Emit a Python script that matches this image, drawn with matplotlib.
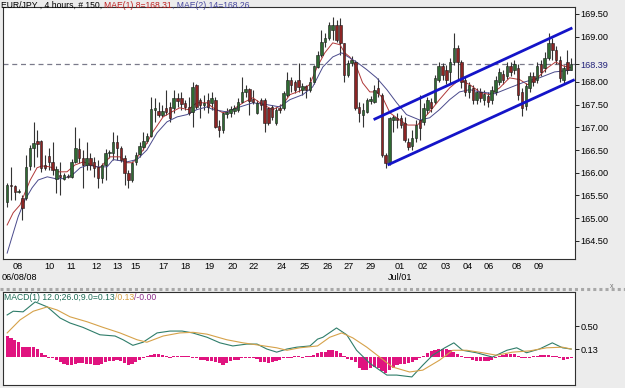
import matplotlib
matplotlib.use("Agg")
import matplotlib.pyplot as plt
from matplotlib.lines import Line2D
import numpy as np

# --- EUR/JPY 4h candles (150 bars) ---
opens = [165.36, 165.73, 165.71, 165.58, 165.45, 165.45, 166.15, 166.55, 166.70, 166.70,
         166.17, 166.37, 166.24, 165.87, 165.95, 165.87, 165.93, 165.91, 166.24, 166.53,
         166.33, 166.17, 166.33, 166.24, 166.13, 165.89, 166.17, 166.44, 166.44, 166.68,
         166.55, 166.33, 166.00, 165.84, 166.24, 166.42, 166.57, 166.70, 166.81, 167.39,
         167.36, 167.28, 167.43, 167.45, 167.43, 167.65, 167.65, 167.54, 167.45, 167.34,
         167.94, 167.61, 167.50, 167.61, 167.54, 167.61, 167.03, 166.94, 167.30, 167.32,
         167.36, 167.39, 167.56, 167.78, 167.85, 167.63, 167.32, 167.61, 167.61, 167.43,
         167.45, 167.10, 167.43, 167.43, 167.72, 168.05, 168.00, 168.05, 167.83, 167.91,
         167.83, 168.00, 168.33, 168.60, 168.88, 168.97, 169.15, 169.26, 169.26, 168.86,
         168.16, 168.42, 168.44, 167.45, 167.28, 167.34, 167.58, 167.56, 167.87, 167.72,
         166.39, 166.22, 167.16, 167.21, 167.21, 167.10, 166.68, 166.59, 166.77, 167.16,
         167.12, 167.39, 167.56, 167.56, 168.05, 168.35, 168.27, 168.22, 168.44, 168.75,
         168.44, 168.05, 167.78, 167.87, 167.61, 167.78, 167.61, 167.69, 167.61, 167.78,
         168.00, 168.18, 168.13, 168.35, 168.27, 168.31, 167.78, 167.47, 167.87, 168.13,
         168.05, 168.40, 168.31, 168.53, 168.86, 168.71, 168.49, 168.05, 168.44, 168.27]
highs = [165.78, 166.13, 165.73, 165.65, 165.51, 166.39, 166.61, 167.12, 166.94, 166.72,
         166.39, 166.55, 166.68, 166.15, 166.24, 166.00, 165.98, 166.31, 167.01, 166.77,
         166.50, 166.68, 166.44, 166.35, 166.29, 166.22, 166.53, 166.50, 166.90, 166.83,
         166.59, 166.39, 166.06, 166.26, 166.46, 166.68, 166.90, 166.88, 167.67, 167.65,
         167.56, 167.50, 167.83, 167.56, 167.83, 167.76, 167.78, 167.61, 167.67, 168.00,
         167.96, 167.65, 167.72, 167.76, 167.78, 167.67, 167.16, 167.34, 167.43, 167.47,
         167.50, 167.65, 168.11, 167.94, 167.87, 167.83, 167.61, 167.65, 167.65, 167.45,
         167.50, 167.45, 167.52, 167.80, 168.22, 168.11, 168.05, 168.42, 167.98, 167.94,
         168.11, 168.38, 168.68, 169.15, 169.08, 169.32, 169.43, 169.37, 169.41, 168.86,
         168.49, 168.57, 168.49, 167.56, 167.54, 167.65, 167.69, 167.94, 168.09, 167.76,
         166.44, 167.23, 167.28, 167.32, 167.28, 167.23, 166.77, 166.94, 167.16, 167.72,
         167.54, 167.67, 167.65, 168.16, 168.44, 168.42, 168.38, 168.53, 169.08, 168.82,
         168.49, 168.13, 168.00, 167.94, 167.87, 167.87, 167.83, 167.78, 167.91, 168.13,
         168.31, 168.27, 168.44, 168.44, 168.49, 168.40, 167.87, 167.98, 168.22, 168.22,
         168.44, 168.49, 168.66, 169.08, 168.97, 168.79, 168.57, 168.38, 168.71, 168.53]
lows = [165.25, 165.40, 165.40, 165.56, 164.96, 165.40, 166.06, 166.13, 166.35, 166.02,
        166.06, 166.06, 165.95, 165.56, 165.51, 165.84, 165.89, 165.89, 166.22, 166.22,
        165.67, 166.06, 166.06, 165.91, 165.67, 165.78, 165.84, 166.33, 166.29, 166.29,
        166.24, 165.73, 165.67, 165.80, 166.17, 166.35, 166.50, 166.66, 166.79, 167.12,
        167.23, 167.23, 167.28, 167.12, 167.32, 167.45, 167.39, 167.39, 167.28, 167.01,
        167.41, 167.21, 167.39, 167.32, 167.39, 166.99, 166.79, 166.88, 167.21, 167.23,
        167.30, 167.34, 167.54, 167.67, 167.28, 167.52, 167.30, 167.39, 166.90, 167.05,
        167.16, 167.05, 167.32, 167.39, 167.67, 167.78, 167.76, 167.78, 167.72, 167.65,
        167.78, 167.96, 168.31, 168.55, 168.77, 168.93, 168.93, 168.88, 168.60, 168.00,
        168.11, 168.35, 167.39, 167.12, 167.01, 167.32, 167.52, 167.54, 167.67, 166.35,
        166.11, 166.17, 166.90, 166.99, 166.99, 166.68, 166.50, 166.50, 166.68, 166.72,
        167.05, 167.30, 167.34, 167.52, 168.00, 168.05, 167.96, 167.98, 168.38, 168.05,
        167.87, 167.69, 167.65, 167.52, 167.52, 167.56, 167.50, 167.45, 167.52, 167.72,
        167.94, 167.96, 168.07, 168.13, 168.18, 167.61, 167.25, 167.39, 167.78, 167.91,
        167.98, 168.13, 168.22, 168.49, 168.49, 168.40, 168.00, 167.96, 168.18, 168.27]
closes = [165.73, 165.71, 165.58, 165.60, 165.23, 166.13, 166.55, 166.66, 166.64, 166.11,
          166.11, 166.24, 166.06, 166.09, 165.91, 165.95, 165.91, 166.24, 166.55, 166.33,
          166.17, 166.33, 166.17, 166.11, 165.89, 166.17, 166.44, 166.46, 166.68, 166.55,
          166.29, 166.00, 165.84, 166.22, 166.39, 166.59, 166.70, 166.81, 167.41, 167.43,
          167.28, 167.36, 167.34, 167.21, 167.65, 167.58, 167.52, 167.45, 167.32, 167.89,
          167.45, 167.50, 167.54, 167.45, 167.65, 167.01, 166.94, 167.32, 167.34, 167.41,
          167.43, 167.56, 167.78, 167.85, 167.58, 167.56, 167.54, 167.50, 167.10, 167.10,
          167.23, 167.39, 167.39, 167.76, 168.05, 167.94, 167.83, 167.89, 167.91, 167.83,
          168.00, 168.35, 168.60, 168.88, 168.97, 169.26, 169.26, 168.93, 168.86, 168.16,
          168.42, 168.49, 167.43, 167.32, 167.39, 167.61, 167.63, 167.83, 167.76, 166.39,
          166.22, 167.21, 167.23, 167.16, 167.05, 166.72, 166.57, 166.77, 167.05, 166.99,
          167.43, 167.61, 167.43, 168.09, 168.35, 168.16, 168.05, 168.44, 168.75, 168.44,
          168.00, 167.78, 167.94, 167.61, 167.78, 167.65, 167.74, 167.56, 167.83, 168.05,
          168.22, 168.05, 168.35, 168.22, 168.40, 167.72, 167.43, 167.91, 168.13, 168.00,
          168.35, 168.22, 168.53, 168.86, 168.71, 168.49, 168.09, 168.31, 168.27, 168.39]

# moving averages, traced at a subset of bars
ma8_idx = [0, 1.6, 3.4, 4.7, 6.1, 7.9, 9.2, 11.3, 13.5, 15.8, 17.9, 20.1, 22.4, 24.5, 27.2,
           29.8, 31.7, 33.2, 35.9, 38.5, 41.2, 43.5, 45.6, 47.8, 50.1, 52.8, 54.4, 57.0, 59.6,
           62.3, 64.9, 67.5, 70.2, 72.8, 74.7, 77.3, 79.9, 81.8, 83.9, 86.0, 87.9, 89.2, 90.5,
           92.3, 93.9, 95.8, 97.6, 99.2, 101.1, 103.7, 105.8, 108.4, 111.6, 114.2, 116.9,
           119.5, 122.2, 124.8, 127.4, 130.1, 132.7, 135.4, 137.5, 140.1, 142.7, 144.9,
           147.0, 149.0]
ma8_val = [164.85, 165.12, 165.29, 165.56, 165.84, 166.11, 166.15, 166.13, 166.02, 166.02,
           166.17, 166.24, 166.17, 166.11, 166.35, 166.35, 166.22, 166.22, 166.50, 166.90,
           167.23, 167.34, 167.43, 167.39, 167.54, 167.54, 167.43, 167.32, 167.39, 167.54,
           167.65, 167.50, 167.39, 167.50, 167.72, 167.80, 167.94, 168.31, 168.64, 168.86,
           168.82, 168.64, 168.55, 168.33, 167.98, 167.78, 167.78, 167.65, 167.32, 167.16,
           167.05, 167.05, 167.34, 167.61, 167.87, 168.05, 167.94, 167.78, 167.72, 167.87,
           168.09, 168.05, 167.94, 168.09, 168.31, 168.44, 168.35, 168.31]
ma14_idx = [0, 1.3, 2.9, 4.7, 6.6, 8.2, 10.6, 12.7, 14.8, 17.2, 19.3, 21.4, 23.7, 26.4, 28.0,
            31.7, 34.3, 36.9, 39.6, 42.2, 44.9, 47.5, 50.1, 52.8, 54.4, 58.0, 61.5, 64.9,
            68.6, 72.0, 74.7, 78.1, 80.7, 83.4, 86.0, 88.4, 90.5, 92.6, 95.0, 97.6, 100.3,
            102.9, 105.5, 109.0, 111.6, 114.2, 116.9, 119.5, 122.2, 124.8, 128.8, 132.7,
            136.7, 140.6, 144.6, 149.0]
ma14_val = [164.23, 164.59, 165.03, 165.40, 165.67, 165.84, 165.91, 165.87, 165.87, 165.95,
            166.11, 166.17, 166.13, 166.13, 166.29, 166.24, 166.29, 166.50, 166.88, 167.12,
            167.23, 167.28, 167.39, 167.45, 167.39, 167.34, 167.45, 167.54, 167.50, 167.45,
            167.61, 167.72, 167.89, 168.33, 168.55, 168.64, 168.53, 168.42, 168.27, 168.09,
            167.83, 167.54, 167.28, 167.16, 167.21, 167.39, 167.61, 167.78, 167.83, 167.78,
            167.74, 167.87, 168.00, 168.09, 168.22, 168.26]

# hand-drawn rising channel (bar index, price)
chan_upper_x = [96.8, 149.3]
chan_upper_y = [167.17, 169.19]
chan_lower_x = [100.5, 149.9]
chan_lower_y = [166.17, 168.05]
last_price = 168.39

# MACD panel
macd_idx = [0, 1.6, 4.2, 7.4, 10.6, 14, 16.6, 20, 24.5, 28.5, 30.6, 33.2, 35.9, 39.6, 43,
            46.2, 49, 52.8, 56.2, 59.6, 63.3, 66, 68.6, 71.2, 73.9, 76.5, 80, 82, 83.4, 87,
            89.7, 92.3, 95.8, 100.3, 102.9, 106.9, 109.8, 112.4, 115.6, 118, 120.3, 124,
            128.2, 132, 134.6, 137.2, 140.6, 144, 146.7, 149]
macd_val = [0.68, 0.74, 0.73, 0.89, 0.81, 0.63, 0.55, 0.48, 0.36, 0.34, 0.28, 0.19, 0.24,
            0.39, 0.42, 0.42, 0.39, 0.32, 0.23, 0.18, 0.21, 0.21, 0.13, 0.08, 0.13, 0.16,
            0.18, 0.29, 0.32, 0.47, 0.36, 0.11, -0.10, -0.29, -0.29, -0.32, -0.13, 0.03,
            0.15, 0.23, 0.11, 0.07, 0.00, 0.11, 0.15, 0.07, 0.13, 0.23, 0.15, 0.13]
sig_idx = [0, 3.4, 6.9, 10.6, 13.2, 16.6, 21.1, 25.3, 29.8, 34.3, 36.9, 41.2, 45.6, 49.1,
           52.8, 58, 62.3, 66.8, 71.2, 73.9, 77.3, 82, 85.2, 88.4, 91.3, 95, 98.4, 101.8,
           106.3, 109.8, 114.2, 117.7, 121.4, 125.6, 129.3, 133.5, 138, 142.5, 146.7, 149]
sig_val = [0.39, 0.60, 0.74, 0.81, 0.76, 0.65, 0.57, 0.48, 0.39, 0.28, 0.24, 0.34, 0.39,
           0.40, 0.37, 0.28, 0.23, 0.19, 0.15, 0.11, 0.15, 0.18, 0.32, 0.39, 0.31, 0.16,
           0.00, -0.16, -0.24, -0.21, -0.05, 0.11, 0.11, 0.07, 0.03, 0.08, 0.10, 0.15, 0.16,
           0.13]
hist = [0.34, 0.31, 0.27, 0.24, 0.16, 0.16, 0.16, 0.16, 0.13, 0.07,
        0.04, -0.01, -0.02, -0.04, -0.08, -0.11, -0.12, -0.13, -0.11, -0.10,
        -0.10, -0.11, -0.11, -0.12, -0.13, -0.11, -0.08, -0.07, -0.07, -0.05,
        -0.07, -0.10, -0.12, -0.11, -0.08, -0.05, -0.02, 0.02, 0.04, 0.05,
        0.05, 0.04, 0.02, -0.01, 0.02, 0.01, 0.02, 0.02, 0.01, -0.02,
        -0.02, -0.04, -0.04, -0.06, -0.07, -0.08, -0.10, -0.12, -0.10, -0.06,
        -0.04, -0.04, -0.02, -0.01, -0.02, -0.02, -0.03, -0.08, -0.08, -0.09,
        -0.08, -0.06, -0.04, -0.02, -0.02, -0.01, 0.02, 0.01, -0.01, 0.01,
        0.02, 0.04, 0.06, 0.08, 0.09, 0.11, 0.11, 0.10, 0.06, 0.02,
        -0.03, -0.04, -0.08, -0.18, -0.20, -0.20, -0.18, -0.16, -0.17, -0.22,
        -0.25, -0.20, -0.18, -0.13, -0.11, -0.11, -0.10, -0.08, -0.04, -0.01,
        0.02, 0.06, 0.10, 0.12, 0.13, 0.13, 0.13, 0.12, 0.09, 0.05,
        0.02, -0.01, -0.02, -0.04, -0.06, -0.07, -0.07, -0.06, -0.04, -0.02,
        0.02, 0.03, 0.05, 0.05, 0.05, 0.02, -0.01, -0.02, -0.01, 0.01,
        0.02, 0.03, 0.04, 0.04, 0.02, 0.01, -0.02, -0.04, -0.03, -0.02]

# date axis: bar index where each day label sits
day_pos = [2.9, 11.1, 16.9, 23.5, 29.0, 34.0, 41.2, 47.2, 53.3, 59.6, 65.2, 72.6, 78.6,
           84.7, 90.2, 96.0, 103.7, 109.8, 115.8, 121.6, 127.2, 134.6, 140.4]
day_labels = ["08", "10", "11", "12", "13", "15", "17", "18", "19", "20", "22", "24", "25",
              "26", "27", "29", "01", "02", "03", "04", "06", "08", "09"]
price_ticks = [164.5, 165.0, 165.5, 166.0, 166.5, 167.0, 167.5, 168.0, 169.0, 169.5]
macd_ticks = [0.13, 0.50]

UP, DOWN = "#2f6a32", "#8c2424"
MA8_C, MA14_C = "#b03838", "#4a4a8c"
CHAN_C = "#1414c8"
FS = 6.6
FS_HEAD = 6.2

plt.rcParams["font.family"] = ["Liberation Sans", "DejaVu Sans"]

W, H = 625, 388
fig = plt.figure(figsize=(W / 100, H / 100), dpi=100, facecolor="#ececec")


def box(x0, y0, x1, y1):
    return [x0 / W, 1 - y1 / H, (x1 - x0) / W, (y1 - y0) / H]


ax = fig.add_axes(box(3, 7, 575, 259))
mx = fig.add_axes(box(3, 292, 575, 385))

# candles
idx = np.arange(len(closes))
o, h, l, c = map(np.asarray, (opens, highs, lows, closes))
up = c >= o
ax.vlines(idx, l, h, color="#333333", lw=0.8, zorder=2)
ax.bar(idx, np.maximum(np.abs(c - o), 0.025), bottom=np.minimum(o, c), width=0.65,
       color=np.where(up, UP, DOWN), edgecolor="#1a1a1a", lw=0.4, zorder=3)
ax.plot(ma8_idx, ma8_val, color=MA8_C, lw=0.7, zorder=2.5)
ax.plot(ma14_idx, ma14_val, color=MA14_C, lw=0.7, zorder=2.5)
ax.plot(chan_upper_x, chan_upper_y, color=CHAN_C, lw=2.0, solid_capstyle="butt", zorder=4)
ax.plot(chan_lower_x, chan_lower_y, color=CHAN_C, lw=2.0, solid_capstyle="butt", zorder=4)
ax.axhline(last_price, color="#7a7a8a", lw=0.9, dashes=(4, 3), zorder=1)

ax.set_xlim(-1.1, 150.0)
ax.set_ylim(164.10, 169.65)
ax.yaxis.tick_right()
yt = sorted(price_ticks + [last_price])
ax.set_yticks(yt)
ax.set_yticklabels([f"{t:.2f}" for t in yt])
for t, lab in zip(yt, ax.get_yticklabels()):
    if t == last_price:
        lab.set_color("#23237a")
ax.tick_params(axis="y", direction="out", length=3, pad=1, width=0.6, labelsize=FS)
ax.set_xticks(day_pos)
ax.set_xticklabels(day_labels)
ax.tick_params(axis="x", direction="out", length=0, pad=2, labelsize=FS)
for s in ax.spines.values():
    s.set_color("#303030")
    s.set_linewidth(0.8)

# macd panel
mx.bar(idx, hist, width=0.85, color="#e0137f", zorder=2)
mx.plot(macd_idx, macd_val, color="#2f7d6a", lw=0.8, zorder=3)
mx.plot(sig_idx, sig_val, color="#d6a24a", lw=0.8, zorder=3)
mx.set_xlim(-1.1, 150.0)
mx.set_ylim(-0.45, 1.05)
mx.set_xticks([])
mx.yaxis.tick_right()
mx.set_yticks(macd_ticks)
mx.set_yticklabels([f"{t:.2f}" for t in macd_ticks])
mx.tick_params(axis="y", direction="out", length=3, pad=1, width=0.6, labelsize=FS)
for s in mx.spines.values():
    s.set_color("#303030")
    s.set_linewidth(0.8)

# header texts, chained so the colours follow each other
t = fig.text(1 / W, 1 - 5 / H, "EUR/JPY , 4 hours, # 150, ", fontsize=FS_HEAD, va="center")
t = ax.annotate("MAE(1) 8=168.31", xy=(1, 0), xycoords=t, va="bottom", fontsize=FS_HEAD,
                color="#c02020", annotation_clip=False)
ax.annotate(", MAE(2) 14=168.26", xy=(1, 0), xycoords=t, va="bottom", fontsize=FS_HEAD,
            color="#4848a0", annotation_clip=False)

t = fig.text(4 / W, 1 - 297 / H, "MACD(1) 12.0;26.0;9.0=0.13", fontsize=FS_HEAD,
             va="center", color="#1f6e58")
t = mx.annotate("/0.13", xy=(1, 0), xycoords=t, va="bottom", fontsize=FS_HEAD,
                color="#d8a040", annotation_clip=False)
mx.annotate("/-0.00", xy=(1, 0), xycoords=t, va="bottom", fontsize=FS_HEAD,
            color="#8a2a8a", annotation_clip=False)

fig.text(2 / W, 1 - 277 / H, "06/08/08", fontsize=FS, va="center")
fig.text(400 / W, 1 - 277 / H, "Jul/01", fontsize=FS, va="center", ha="center")

# dotted splitter between the panels
fig.add_artist(Line2D([0, 1], [1 - 288.5 / H] * 2, transform=fig.transFigure,
                      color="#a8a8a8", lw=2.2, linestyle=(0, (1, 1))))
fig.text(612 / W, 1 - 287 / H, "x", fontsize=5, color="#707070", va="center", ha="center")

fig.savefig("out.png", dpi=100, facecolor=fig.get_facecolor())
